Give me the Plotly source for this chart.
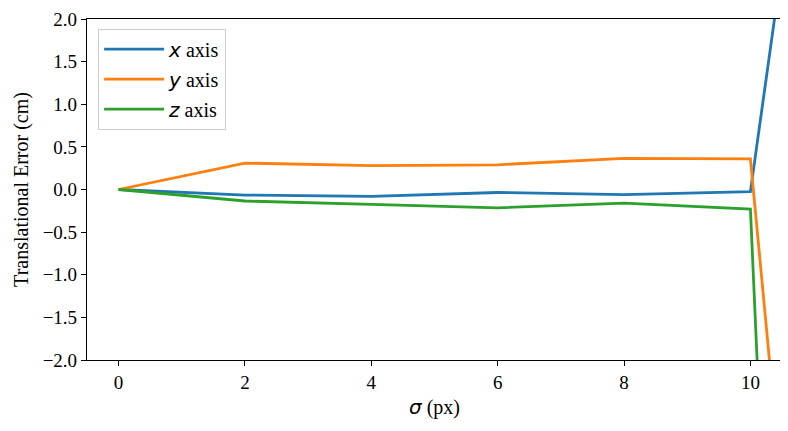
import plotly.graph_objs as go

# sigma values (px); the last point lies beyond the visible x range
sigma = [0, 2, 4, 6, 8, 10, 12]
err_x = [0.0, -0.065, -0.08, -0.035, -0.06, -0.025, 10.6]
err_y = [0.0, 0.31, 0.28, 0.29, 0.365, 0.36, -15.3]
err_z = [0.0, -0.135, -0.175, -0.215, -0.16, -0.23, -33.6]

x_ticks = [0, 2, 4, 6, 8, 10]
y_ticks = [-2.0, -1.5, -1.0, -0.5, 0.0, 0.5, 1.0, 1.5, 2.0]

SERIF = "Liberation Serif"
MATH = "<span style=\"font-family:'DejaVu Sans';font-style:italic\">%s</span>"
FS = 20


def draw_picture():
    series = [
        (err_x, "x", "#1f77b4"),
        (err_y, "y", "#ff7f0e"),
        (err_z, "z", "#2ca02c"),
    ]
    traces = []
    for vals, name, color in series:
        traces.append(go.Scatter(
            x=sigma, y=vals, mode="lines",
            name=(MATH % name) + " axis", legendgroup=name,
            line=dict(color=color, width=2.8)))

    axis_style = dict(showline=True, linecolor="black", linewidth=1.2,
                      mirror=True, ticks="outside", ticklen=5, tickwidth=1.2,
                      tickcolor="black", showgrid=False, zeroline=False,
                      ticklabeloverflow="allow", automargin=False,
                      tickfont=dict(family=SERIF, size=19, color="black"))
    # the page adds an 8px body margin, so the figure is a bit smaller
    layout = go.Layout(
        width=780, height=423,
        margin=dict(l=79, r=6, t=11, b=71),
        plot_bgcolor="white", paper_bgcolor="white",
        font=dict(family=SERIF, size=FS, color="black"),
        xaxis=dict(range=[-0.5, 10.5], tickvals=x_ticks,
                   title=dict(text=(MATH % "σ") + " (px)", standoff=8,
                              font=dict(family=SERIF, size=FS)),
                   **axis_style),
        yaxis=dict(range=[-2, 2], tickvals=y_ticks,
                   ticktext=[f"{v:.1f}".replace("-", "\u2212") for v in y_ticks],
                   title=dict(text="Translational Error (cm)", standoff=8,
                              font=dict(family=SERIF, size=FS)),
                   **axis_style),
        legend=dict(x=0.016, y=0.972, xanchor="left", yanchor="top",
                    bgcolor="rgba(255,255,255,0.8)", bordercolor="#cccccc",
                    borderwidth=1, font=dict(family=SERIF, size=FS),
                    itemwidth=60, tracegroupgap=1),
        showlegend=True,
    )
    fig = go.Figure(data=traces, layout=layout)
    fig.write_html("out.html")


def main():
    draw_picture()


if __name__ == "__main__":
    main()
